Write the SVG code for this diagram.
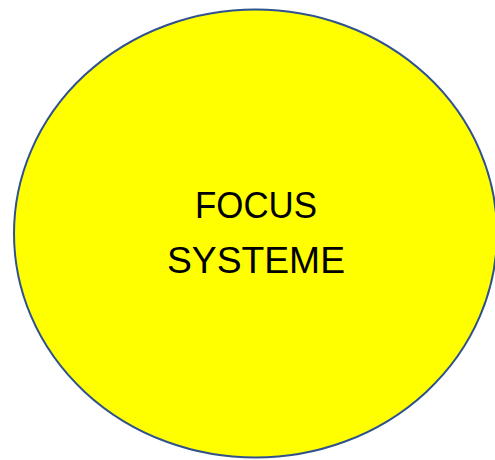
<svg xmlns="http://www.w3.org/2000/svg" width="495" height="460" viewBox="0 0 495 460">
<style>
.lbl{font-family:"Liberation Sans",Arial,sans-serif;font-size:37px;fill:#000;text-anchor:middle}
</style>
<rect width="495" height="460" fill="#fff"/>
<g id="focus-systeme">
<ellipse cx="255.5" cy="233.5" rx="241.5" ry="224" fill="#ffff00" stroke="#2f528f" stroke-width="2"/>
<text class="lbl" x="256" y="218" textLength="122" lengthAdjust="spacingAndGlyphs">FOCUS</text>
<text class="lbl" x="256" y="273" textLength="178" lengthAdjust="spacingAndGlyphs">SYSTEME</text>
</g>
<g id="connectors"/>
</svg>
